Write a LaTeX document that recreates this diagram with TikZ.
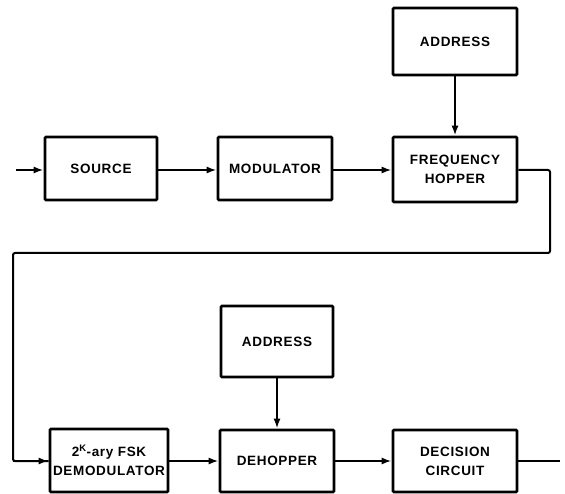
\documentclass[tikz,border=0pt]{standalone}
\usepackage{fontspec}
\setmainfont{Liberation Sans}
\newfontfamily\labfont[LetterSpace=5]{Liberation Sans}
\usetikzlibrary{arrows.meta}
\begin{document}
\begin{tikzpicture}[x=1pt,y=-1pt,
  blk/.style={draw,line width=2.6pt,rounded corners=1pt,minimum width=#1,inner sep=0pt,
    font=\labfont\bfseries\fontsize{13.5}{19}\selectfont,align=center},
  conn/.style={line width=2pt},
  arr/.style={conn,-{Latex[length=10pt,width=7pt]}}]
\useasboundingbox (0,0) rectangle (565,494);
\node[blk=124pt,minimum height=67pt] (addr1) at (455,41.5) {ADDRESS};
\node[blk=112pt,minimum height=63pt] (src) at (101,168.5) {SOURCE};
\node[blk=114pt,minimum height=63pt] (mod) at (275,168.5) {MODULATOR};
\node[blk=124pt,minimum height=65pt] (hop) at (455,169.5) {FREQUENCY\\HOPPER};
\node[blk=112pt,minimum height=71pt] (addr2) at (277,341.5) {ADDRESS};
\node[blk=118pt,minimum height=63pt] (demod) at (109,460.5) {2\textsuperscript{K}-ary FSK\\DEMODULATOR};
\node[blk=114pt,minimum height=62pt] (dehop) at (277,461) {DEHOPPER};
\node[blk=124pt,minimum height=62pt] (dec) at (455,461) {DECISION\\CIRCUIT};
\coordinate (in) at (16,170);
\coordinate (r1) at (550,170);
\coordinate (r2) at (550,253);
\coordinate (l1) at (13,253);
\coordinate (l2) at (13,461);
\coordinate (out) at (560,461);
\draw[arr] (in) -- (in -| src.west);
\draw[arr] (src.east |- in) -- (mod.west |- in);
\draw[arr] (mod.east |- in) -- (hop.west |- in);
\draw[arr] (addr1.south) -- (hop.north);
\draw[conn,rounded corners=2pt] (hop.east |- r1) -- (r1) -- (r2) -- (l1) -- (l2) -- (demod.west |- l2);
\draw[arr] (l2) -- (demod.west |- l2);
\draw[arr] (demod.east |- l2) -- (dehop.west |- l2);
\draw[arr] (addr2.south) -- (dehop.north);
\draw[arr] (dehop.east |- l2) -- (dec.west |- l2);
\draw[conn] (dec.east |- l2) -- (out);
\end{tikzpicture}
\end{document}
